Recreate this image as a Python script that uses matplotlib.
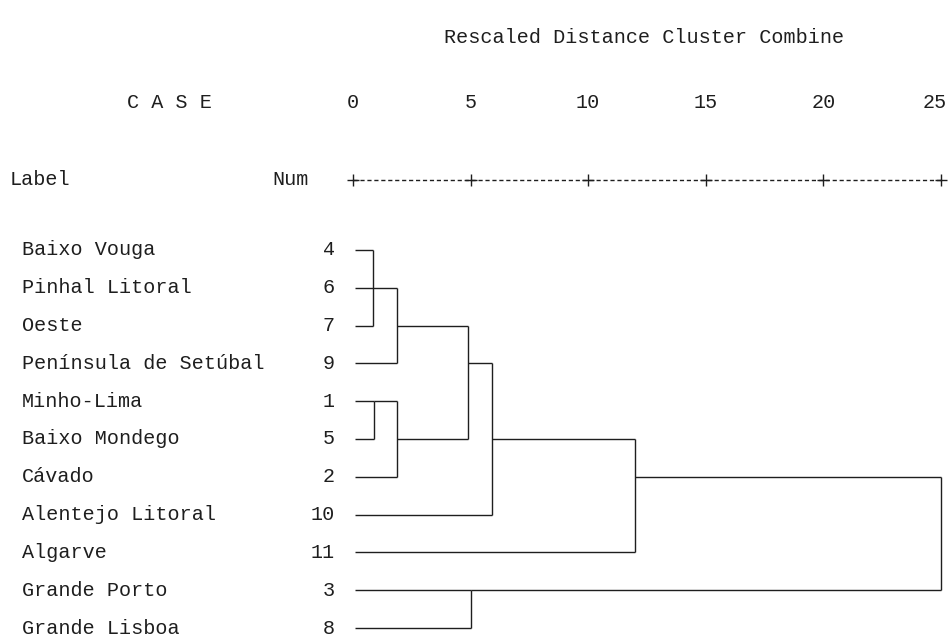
import matplotlib
matplotlib.use("Agg")
import matplotlib.pyplot as plt

# --- data ---
cases = ["Baixo Vouga", "Pinhal Litoral", "Oeste", "Península de Setúbal",
         "Minho-Lima", "Baixo Mondego", "Cávado", "Alentejo Litoral",
         "Algarve", "Grande Porto", "Grande Lisboa"]
case_nums = [4, 6, 7, 9, 1, 5, 2, 10, 11, 3, 8]
ticks = [0, 5, 10, 15, 20, 25]

# merges: child node ids (leaves are 0..10, new nodes numbered from 11),
# rescaled distance where they join, row where the joined line continues
merge_children = [[0, 1, 2], [11, 3], [4, 5], [13, 6], [12, 14],
                  [15, 7], [16, 8], [9, 10], [17, 18]]
merge_dist = [0.85, 1.87, 0.9, 1.87, 4.9, 5.9, 12.0, 5.0, 25.0]
merge_row = [1, 2, 4, 5, 3, 5, 6, 9, 7.5]

LEAF_START = 0.1
INK = "#1e1e1e"
FONT = "Liberation Mono"
FS = 14.5

fig = plt.figure(figsize=(9.5, 6.4), dpi=100)
ax = fig.add_axes([0, 0, 1, 1])
# 0 -> 353 px, 25 -> 941 px; row 0 -> 250 px, row 10 -> 628 px
px_per_unit = (941 - 353) / 25.0
px_per_row = (628 - 250) / 10.0
ax.set_xlim(-353 / px_per_unit, (950 - 353) / px_per_unit)
ax.set_ylim((640 - 250) / px_per_row, -250 / px_per_row)
ax.axis("off")

# node positions: (x where its line starts, y row)
node_x = [LEAF_START] * len(cases)
node_y = list(range(len(cases)))
for kids, d, r in zip(merge_children, merge_dist, merge_row):
    ys = [node_y[k] for k in kids]
    for k in kids:
        ax.plot([node_x[k], d], [node_y[k], node_y[k]], color=INK, lw=1.0,
                solid_capstyle="butt")
    ax.plot([d, d], [min(ys), max(ys)], color=INK, lw=1.0, solid_capstyle="butt")
    node_x.append(d)
    node_y.append(r)

# case labels and numbers
lab_x = (22 - 353) / px_per_unit
num_x = (335 - 353) / px_per_unit
for i, (name, n) in enumerate(zip(cases, case_nums)):
    ax.text(lab_x, i, name, ha="left", va="center", family=FONT, fontsize=FS, color=INK)
    ax.text(num_x, i, str(n), ha="right", va="center", family=FONT, fontsize=FS, color=INK)

# header
ruler_y = (180 - 250) / px_per_row
tick_y = (103 - 250) / px_per_row
title_y = (38 - 250) / px_per_row
ax.plot([ticks[0], ticks[-1]], [ruler_y, ruler_y], color=INK, lw=1.0,
        linestyle=(0, (3, 2)))
ax.plot(ticks, [ruler_y] * len(ticks), linestyle="none", marker="+",
        markersize=9, mew=1.0, color=INK)
for t in ticks[:-1]:
    ax.text(t, tick_y, str(t), ha="center", va="center", family=FONT,
            fontsize=FS, color=INK)
# last label sits against the right edge
ax.text(ticks[-1] + 6 / px_per_unit, tick_y, str(ticks[-1]), ha="right",
        va="center", family=FONT, fontsize=FS, color=INK)

ax.text((10 - 353) / px_per_unit, ruler_y, "Label", ha="left", va="center",
        family=FONT, fontsize=FS, color=INK)
ax.text((272 - 353) / px_per_unit, ruler_y, "Num", ha="left", va="center",
        family=FONT, fontsize=FS, color=INK)
ax.text((127 - 353) / px_per_unit, tick_y, "C A S E", ha="left", va="center",
        family=FONT, fontsize=FS, color=INK)
ax.text((644 - 353) / px_per_unit, title_y, "Rescaled Distance Cluster Combine",
        ha="center", va="center", family=FONT, fontsize=FS, color=INK)

fig.savefig("out.png", dpi=100)
